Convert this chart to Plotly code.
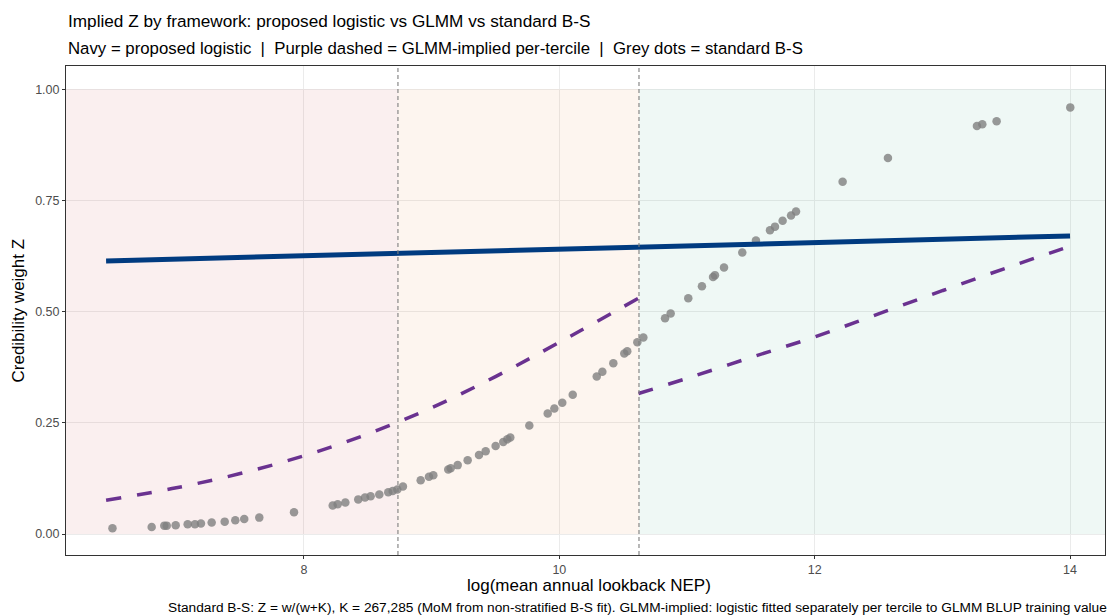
import plotly.graph_objects as go

# ---- data ----
bs_x = [6.50, 6.807, 6.906, 6.925, 6.995, 7.089, 7.146, 7.193, 7.277, 7.379, 7.462, 7.532, 7.650,
        7.922, 8.225, 8.264, 8.324, 8.425, 8.478, 8.522, 8.590, 8.660, 8.695, 8.731, 8.775,
        8.914, 8.979, 9.013, 9.130, 9.149, 9.204, 9.282, 9.371, 9.423, 9.501, 9.561, 9.593, 9.616,
        9.765, 9.909, 9.961, 10.023, 10.105, 10.293, 10.337, 10.423, 10.509, 10.532, 10.611, 10.658,
        10.828, 10.872, 11.010, 11.117, 11.204, 11.219, 11.290, 11.433, 11.540, 11.650, 11.689,
        11.749, 11.815, 11.854, 12.219, 12.574, 13.271, 13.313, 13.425, 14.002]
bs_z = [0.013, 0.016, 0.019, 0.019, 0.020, 0.022, 0.022, 0.024, 0.026, 0.028, 0.031, 0.034, 0.037,
        0.049, 0.064, 0.067, 0.071, 0.078, 0.082, 0.085, 0.089, 0.094, 0.097, 0.100, 0.107,
        0.121, 0.129, 0.132, 0.145, 0.148, 0.155, 0.166, 0.178, 0.186, 0.198, 0.207, 0.213, 0.217,
        0.244, 0.271, 0.282, 0.295, 0.313, 0.354, 0.365, 0.384, 0.406, 0.411, 0.431, 0.442,
        0.485, 0.496, 0.530, 0.557, 0.578, 0.582, 0.599, 0.633, 0.660, 0.683, 0.691,
        0.704, 0.716, 0.725, 0.792, 0.845, 0.917, 0.921, 0.928, 0.959]

prop_x = [6.45, 8.0, 10.0, 12.0, 14.0]
prop_z = [0.614, 0.625, 0.640, 0.655, 0.670]

glmm12_x = [6.45, 7.0, 7.5, 8.0, 8.5, 9.0, 9.5, 10.0, 10.62]
glmm12_z = [0.076, 0.104, 0.136, 0.176, 0.225, 0.284, 0.354, 0.431, 0.530]

glmm3_x = [10.62, 11.0, 11.5, 12.0, 12.5, 13.0, 13.5, 14.0]
glmm3_z = [0.316, 0.350, 0.397, 0.443, 0.495, 0.547, 0.598, 0.647]

tercile_cuts = [8.736, 10.624]

x_ticks = [8, 10, 12, 14]
y_ticks = [0.0, 0.25, 0.50, 0.75, 1.00]
y_labels = ["0.00", "0.25", "0.50", "0.75", "1.00"]

SEP = " \u00a0|\u00a0 "
title = "Implied Z by framework: proposed logistic vs GLMM vs standard B-S"
subtitle = ("Navy = proposed logistic" + SEP + "Purple dashed = GLMM-implied per-tercile" + SEP +
            "Grey dots = standard B-S")
caption = ("Standard B-S: Z = w/(w+K), K = 267,285 (MoM from non-stratified B-S fit). "
           "GLMM-implied: logistic fitted separately per tercile to GLMM BLUP training values")
x_title = "log(mean annual lookback NEP)"
y_title = "Credibility weight Z"

FONT = "Liberation Sans, Arial, sans-serif"
xr = [6.136, 14.274]
yr = [-0.047, 1.052]

L, R, T, B = 66, 2, 66, 61
W, H = 1107, 616
PW = W - L - R

fig = go.Figure()

fig.add_trace(go.Scatter(x=bs_x, y=bs_z, mode="markers",
                         marker=dict(size=8.5, color="rgba(128,128,128,0.8)", line=dict(width=0)),
                         showlegend=False, hoverinfo="x+y"))
fig.add_trace(go.Scatter(x=glmm12_x, y=glmm12_z, mode="lines", line_shape="spline",
                         line=dict(color="#6A3290", width=3.5, dash="15px,16px"), showlegend=False))
fig.add_trace(go.Scatter(x=glmm3_x, y=glmm3_z, mode="lines", line_shape="spline",
                         line=dict(color="#6A3290", width=3.5, dash="15px,16px"), showlegend=False))
fig.add_trace(go.Scatter(x=prop_x, y=prop_z, mode="lines",
                         line=dict(color="#003B80", width=5), showlegend=False))

shade = [("rgba(178,34,34,0.07)", xr[0], tercile_cuts[0]),
         ("rgba(230,120,30,0.07)", tercile_cuts[0], tercile_cuts[1]),
         ("rgba(27,158,119,0.07)", tercile_cuts[1], xr[1])]
for col, a, b in shade:
    fig.add_shape(type="rect", x0=a, x1=b, y0=0, y1=1, xref="x", yref="y",
                  fillcolor=col, line=dict(width=0), layer="between")
for c in tercile_cuts:
    fig.add_shape(type="line", x0=c, x1=c, y0=0, y1=1, xref="x", yref="paper",
                  line=dict(color="#7F7F7F", width=1.1, dash="4px,3px"), layer="above")

fig.update_layout(
    width=W, height=H,
    margin=dict(l=L, r=R, t=T, b=B, autoexpand=False),
    paper_bgcolor="white", plot_bgcolor="white",
    font=dict(family=FONT, color="#000000"),
    showlegend=False,
    annotations=[
        dict(text=title, x=0, y=1, xref="paper", yref="paper", xanchor="left", yanchor="middle",
             yshift=T - 21, showarrow=False, font=dict(size=17.2, family=FONT, color="black")),
        dict(text=subtitle, x=0, y=1, xref="paper", yref="paper", xanchor="left", yanchor="middle",
             yshift=T - 48, showarrow=False, font=dict(size=16.8, family=FONT, color="black")),
        dict(text=caption, x=(166 - L) / PW, y=0, xref="paper", yref="paper", xanchor="left",
             yanchor="middle", yshift=-(607 - (H - B)), showarrow=False,
             font=dict(size=13.7, family=FONT, color="black")),
        dict(text=x_title, x=(589 - L) / PW, y=0, xref="paper", yref="paper", xanchor="center",
             yanchor="middle", yshift=-(585 - (H - B)), showarrow=False,
             font=dict(size=17, family=FONT, color="black")),
        dict(text=y_title, x=0, y=0.5, xref="paper", yref="paper", xanchor="center",
             yanchor="middle", xshift=-(L - 18), textangle=-90, showarrow=False,
             font=dict(size=17, family=FONT, color="black")),
    ],
)

fig.update_xaxes(range=xr, tickvals=x_ticks, ticks="outside", ticklen=3, tickcolor="#333333",
                 showgrid=True, gridcolor="#EBEBEB", gridwidth=1.2, zeroline=False,
                 showline=True, linecolor="#333333", linewidth=1, mirror=True, automargin=False,
                 tickfont=dict(size=12.5, color="#4D4D4D", family=FONT))
fig.update_yaxes(range=yr, tickvals=y_ticks, ticktext=y_labels, ticks="outside", ticklen=3,
                 tickcolor="#333333", showgrid=True, gridcolor="#EBEBEB", gridwidth=1.2, zeroline=False,
                 showline=True, linecolor="#333333", linewidth=1, mirror=True, automargin=False,
                 tickfont=dict(size=12.5, color="#4D4D4D", family=FONT))

fig.write_html("out.html", config={"displayModeBar": False},
               post_script="document.body.style.margin='0';document.body.style.overflow='hidden';")
